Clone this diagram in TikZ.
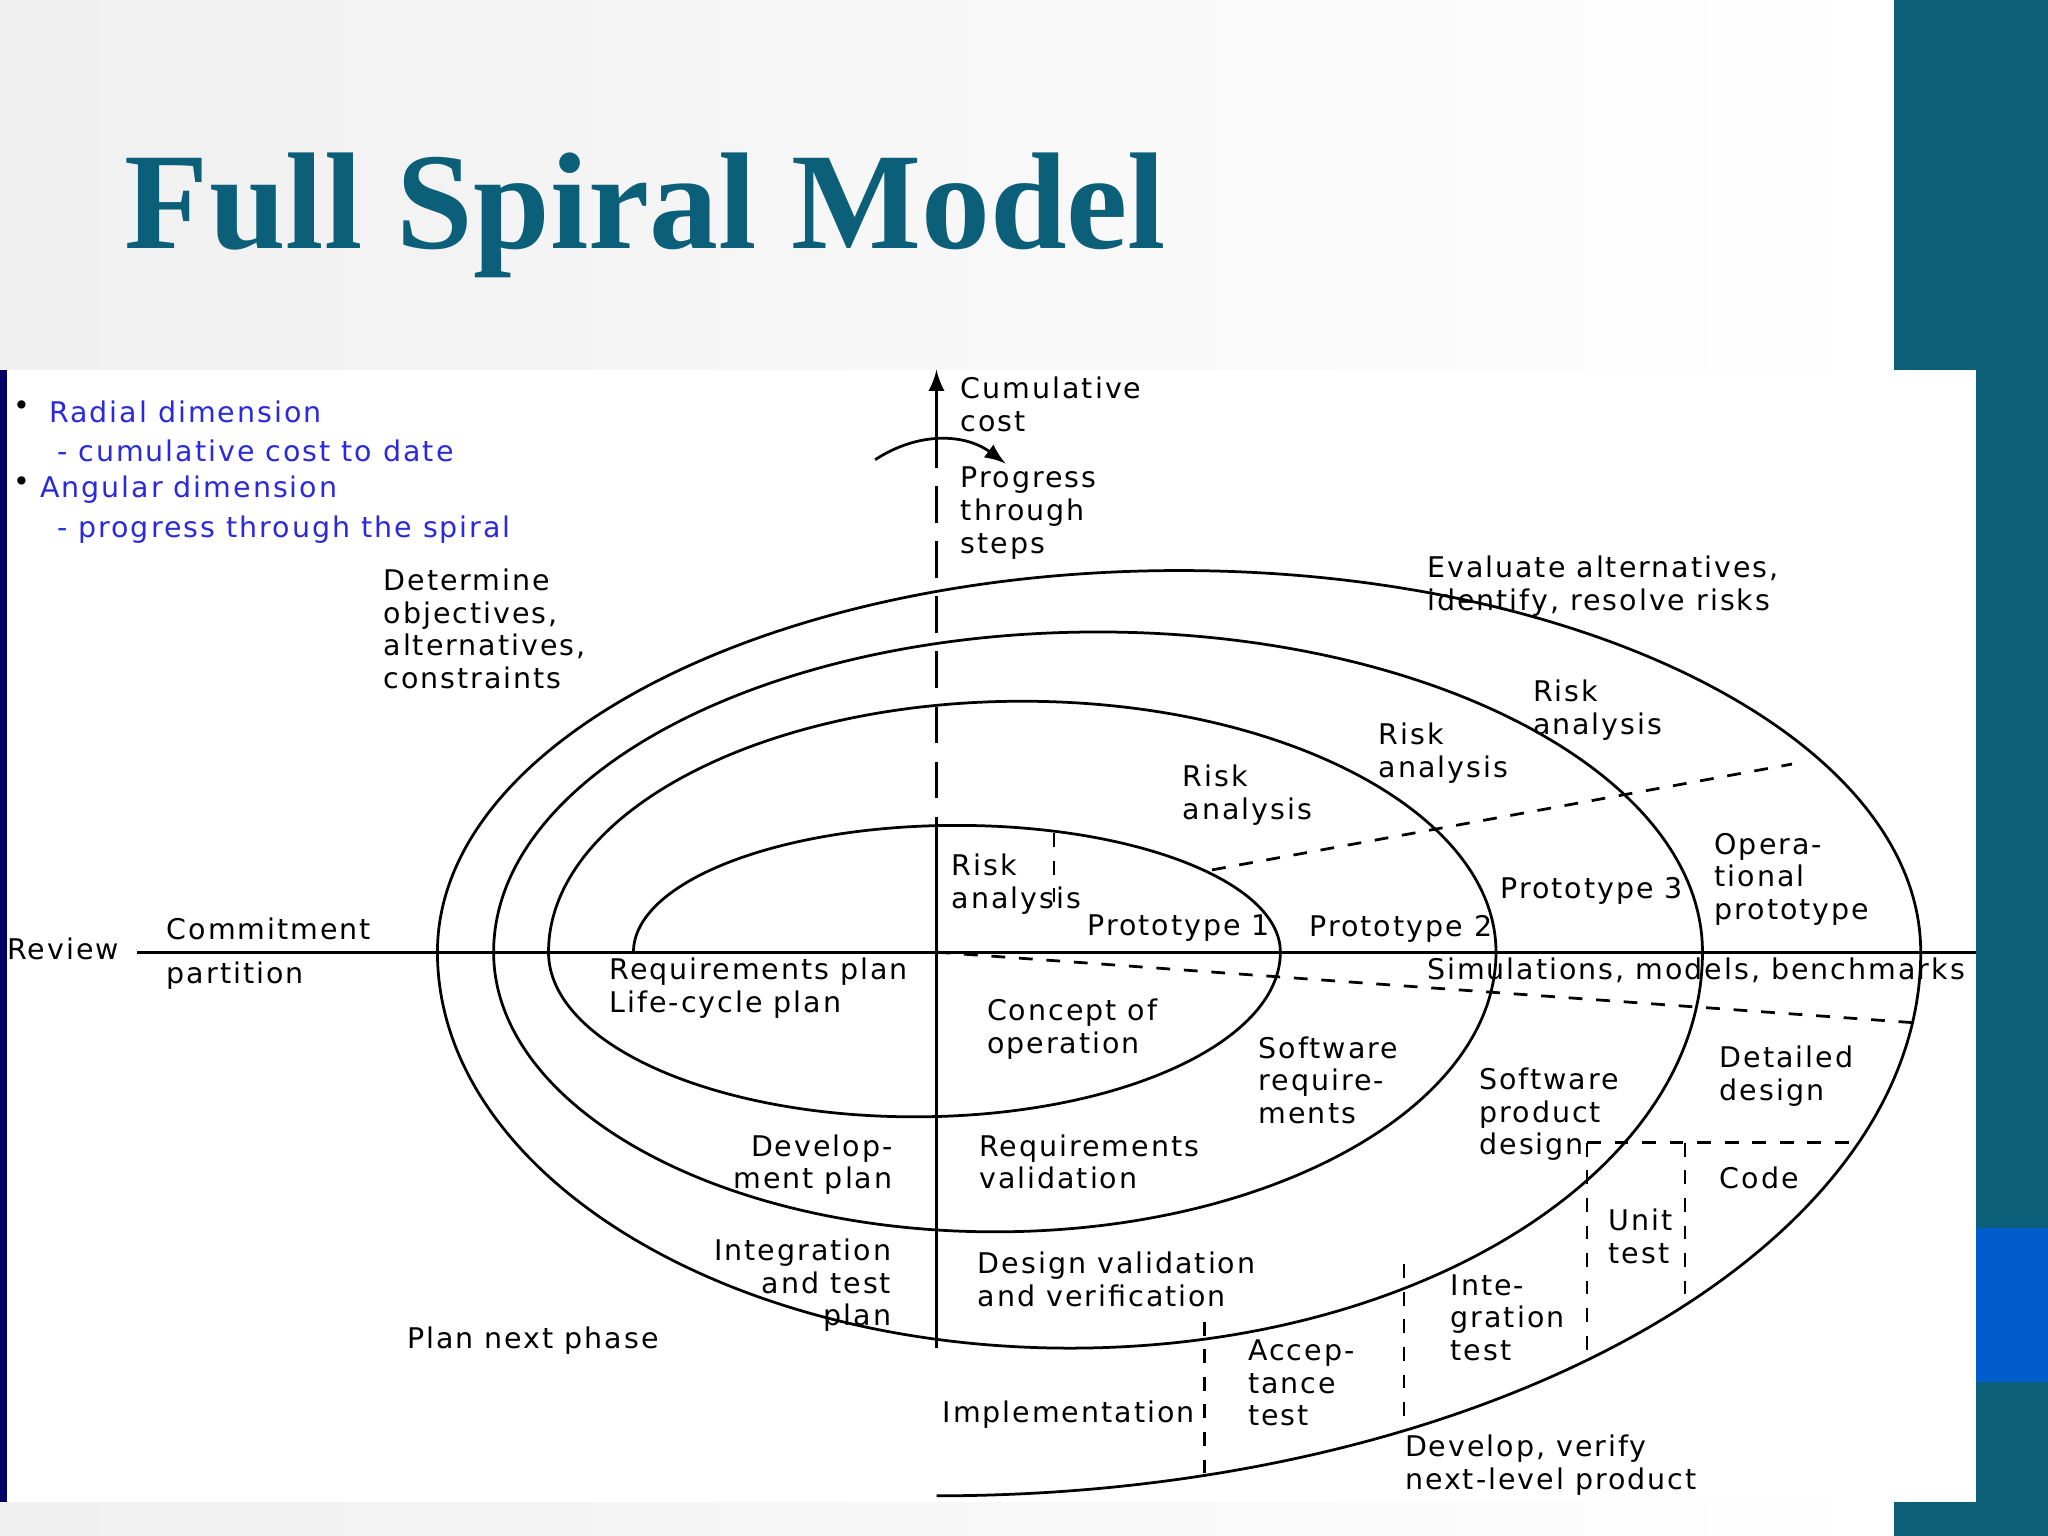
\documentclass[tikz,border=0pt]{standalone}
\usepackage{fontspec}
\setmainfont[LetterSpace=7]{DejaVu Sans}
\newfontfamily\titlefont{Liberation Serif}
\definecolor{teal}{HTML}{0B5F78}
\definecolor{legblue}{HTML}{2A2ADC}
\begin{document}
\begin{tikzpicture}[x=0.01cm,y=-0.01cm,
    lbl/.style={anchor=north west,inner sep=0pt,align=left,font=\fontsize{6.2}{7.1}\selectfont},
    rlbl/.style={anchor=north east,inner sep=0pt,align=right,font=\fontsize{6.2}{7.1}\selectfont},
    leg/.style={lbl,text=legblue},
    part/.style={dashed,semithick}]
  \useasboundingbox (0,0) rectangle (1568,1176);
  % background
  \shade[left color=gray!12,right color=white] (0,0) rectangle (1450,1176);
  \fill[teal] (1450,0) rectangle (1568,1176);
  \fill[blue!55!cyan!80!black] (1513,940) rectangle (1568,1058);
  \fill[white] (0,283) rectangle (1513,1150);
  \fill[blue!40!black] (0,283) rectangle (5,1150);
  \node[anchor=base west,inner sep=0pt,text=teal,font=\titlefont\bfseries\fontsize{30}{30}\selectfont] (title) at (95,190) {Full Spiral Model};
  % axes
  \coordinate (o) at (717,729);
  \draw[semithick] (105,729) -- (1513,729);
  \draw[semithick,-latex] (717,330) -- (717,283);
  \draw[semithick,dash pattern=on 8pt off 4pt] (717,330) -- (717,632);
  \draw[semithick] (717,632) -- (717,1032);
  \draw[semithick,-latex] (670,352) to[bend left=35] (770,355);
  % spiral
  \draw[semithick] (485,729) arc[start angle=180,end angle=0,x radius=2.475cm,y radius=0.97cm]
    arc[start angle=0,end angle=-180,x radius=2.8cm,y radius=1.26cm]
    arc[start angle=180,end angle=0,x radius=3.625cm,y radius=1.92cm]
    arc[start angle=0,end angle=-180,x radius=3.835cm,y radius=2.14cm]
    arc[start angle=180,end angle=0,x radius=4.625cm,y radius=2.45cm]
    arc[start angle=0,end angle=-180,x radius=4.84cm,y radius=3.03cm]
    arc[start angle=180,end angle=0,x radius=5.675cm,y radius=2.92cm]
    arc[start angle=0,end angle=-90,x radius=7.53cm,y radius=4.16cm];
  % partitions
  \draw[part] (o) -- (1465,783);
  \draw[part] (928,666) -- (1372,585);
  \draw[part] (807,638) -- (807,700);
  \draw[part] (1215,875) -- (1420,875);
  \draw[part] (1215,875) -- (1215,1040);
  \draw[part] (1290,875) -- (1290,997);
  \draw[part] (1075,968) -- (1075,1095);
  \draw[part] (922,1012) -- (922,1130);
  % legend
  \node[lbl] (b1) at (10,306) {\textbullet};
  \node[leg] (l1) at (37,306) {Radial dimension};
  \node[leg] (l2) at (43,336) {- cumulative cost to date};
  \node[lbl] (b2) at (10,364) {\textbullet};
  \node[leg] (l3) at (30,364) {Angular dimension};
  \node[leg] (l4) at (43,394) {- progress through the spiral};
  % labels
  \node[lbl] (cost) at (735,288) {Cumulative\\cost};
  \node[lbl] (prog) at (735,357) {Progress\\through\\steps};
  \node[lbl] (det) at (293,435) {Determine\\objectives,\\alternatives,\\constraints};
  \node[lbl] (eval) at (1092,425) {Evaluate alternatives,\\identify, resolve risks};
  \node[lbl] (ra4) at (1173,520) {Risk\\analysis};
  \node[lbl] (ra3) at (1055,553) {Risk\\analysis};
  \node[lbl] (ra2) at (905,585) {Risk\\analysis};
  \node[lbl] (ra1) at (728,653) {Risk\\analysis};
  \node[lbl] (p1) at (832,700) {Prototype 1};
  \node[lbl] (p2) at (1002,700) {Prototype 2};
  \node[lbl] (p3) at (1148,671) {Prototype 3};
  \node[lbl] (op) at (1312,637) {Opera-\\tional\\prototype};
  \node[lbl] (rev) at (5,717) {Review};
  \node[lbl] (com) at (127,702) {Commitment};
  \node[lbl] (par) at (127,736) {partition};
  \node[lbl] (req) at (466,733) {Requirements plan\\Life-cycle plan};
  \node[lbl] (sim) at (1092,733) {Simulations, models, benchmarks};
  \node[lbl] (con) at (755,764) {Concept of\\operation};
  \node[lbl] (sreq) at (963,793) {Software\\require-\\ments};
  \node[lbl] (spd) at (1132,817) {Software\\product\\design};
  \node[lbl] (dd) at (1316,800) {Detailed\\design};
  \node[rlbl] (dev) at (684,868) {Develop-\\ment plan};
  \node[lbl] (rv) at (749,868) {Requirements\\validation};
  \node[lbl] (code) at (1316,893) {Code};
  \node[lbl] (ut) at (1231,925) {Unit\\test};
  \node[rlbl] (itp) at (683,948) {Integration\\and test\\plan};
  \node[lbl] (dv) at (748,958) {Design validation\\and verification};
  \node[lbl] (it) at (1110,975) {Inte-\\gration\\test};
  \node[lbl] (pnp) at (311,1015) {Plan next phase};
  \node[lbl] (at) at (955,1025) {Accep-\\tance\\test};
  \node[lbl] (imp) at (721,1072) {Implementation};
  \node[lbl] (dvp) at (1075,1098) {Develop, verify\\next-level product};
\end{tikzpicture}
\end{document}
